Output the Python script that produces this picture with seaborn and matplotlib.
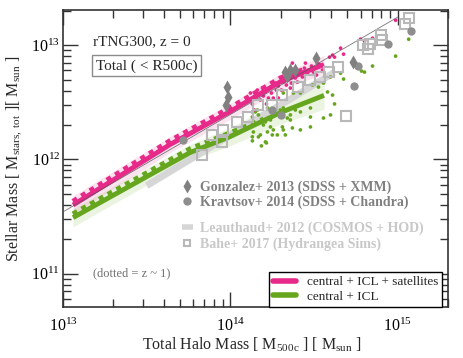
import numpy as np
import matplotlib
matplotlib.use("Agg")
import matplotlib.pyplot as plt
import seaborn as sns
from matplotlib.lines import Line2D
from matplotlib.ticker import LogLocator, NullFormatter

# log10 masses (halo mass M500c, stellar mass)

# median relations (z = 0) and their scatter (dex)
pink_logm = [13.06, 13.64, 14.00, 14.30, 14.56]
pink_logms = [11.60, 12.13, 12.42, 12.68, 12.83]
pink_band = [0.08, 0.07, 0.07, 0.07, 0.08]
green_logm = [13.06, 13.76, 14.00, 14.30, 14.56]
green_logms = [11.49, 12.06, 12.20, 12.41, 12.56]
green_band = [0.08, 0.07, 0.08, 0.10, 0.12]

# z ~ 1 medians (dotted)
pink_z1_logm = [13.06, 13.64, 14.00, 14.30, 14.45]
pink_z1_logms = [11.63, 12.16, 12.45, 12.71, 12.79]
green_z1_logm = [13.06, 13.76, 14.00, 14.20]
green_z1_logms = [11.52, 12.09, 12.23, 12.35]

# thin reference fit and Leauthaud+ 2012 relation
fit_logm = [13.0, 15.0]
fit_logms = [11.54, 13.245]
leau_logm = [13.50, 14.62]
leau_logms = [11.77, 12.76]

# individual haloes: central + ICL + satellites
pink_pts_logm = [14.102, 14.120, 14.132, 14.150, 14.162, 14.168, 14.180, 14.192, 14.198, 14.210,
                 14.222, 14.228, 14.240, 14.246, 14.257, 14.269, 14.275, 14.287, 14.299, 14.305,
                 14.317, 14.323, 14.335, 14.347, 14.359, 14.365, 14.377, 14.389, 14.401, 14.407,
                 14.419, 14.431, 14.443, 14.449, 14.461, 14.473, 14.485, 14.497, 14.509, 14.515,
                 14.527, 14.539, 14.551, 14.593, 14.611, 14.623, 14.659, 14.677, 14.778, 14.802,
                 14.850, 14.988, 14.144, 14.216, 14.060, 14.287, 14.359, 14.371]
pink_pts_logms = [12.520, 12.581, 12.485, 12.546, 12.607, 12.563, 12.520, 12.624, 12.555, 12.590,
                  12.607, 12.537, 12.633, 12.581, 12.537, 12.668, 12.607, 12.642, 12.677, 12.607,
                  12.677, 12.712, 12.651, 12.694, 12.738, 12.668, 12.764, 12.712, 12.677, 12.747,
                  12.773, 12.721, 12.799, 12.843, 12.755, 12.782, 12.817, 12.764, 12.799, 12.738,
                  12.834, 12.825, 12.782, 12.895, 12.913, 12.895, 12.974, 12.921, 13.052, 13.035,
                  13.061, 13.218, 12.432, 12.485, 12.476, 12.537, 12.624, 12.843]

# individual haloes: central + ICL
green_pts_logm = [14.132, 14.132, 14.162, 14.222, 14.168, 14.192, 14.210, 14.269, 14.240, 14.198,
                  14.257, 14.222, 14.180, 14.138, 14.132, 14.210, 14.168, 14.311, 14.281, 14.299,
                  14.317, 14.599, 14.557, 14.581, 14.611, 14.527, 14.491, 14.419, 14.377, 14.437,
                  14.389, 14.419, 14.479, 14.341, 14.359, 14.557, 14.599, 14.479, 14.419, 14.371,
                  14.317, 15.066, 14.988, 14.850, 14.784, 14.802, 14.677, 14.659, 14.623, 14.479,
                  14.329, 14.251, 14.216, 14.186, 14.132, 14.240, 14.150, 14.359, 14.317]
green_pts_logms = [12.415, 12.371, 12.432, 12.450, 12.389, 12.328, 12.328, 12.389, 12.284, 12.301,
                   12.258, 12.240, 12.214, 12.240, 12.197, 12.153, 12.197, 12.284, 12.214, 12.432,
                   12.450, 12.721, 12.668, 12.590, 12.563, 12.633, 12.651, 12.581, 12.581, 12.493,
                   12.432, 12.415, 12.450, 12.362, 12.345, 12.362, 12.389, 12.284, 12.258, 12.275,
                   12.258, 13.052, 12.904, 12.817, 12.773, 12.764, 12.703, 12.755, 12.485, 12.371,
                   12.214, 12.214, 12.144, 12.118, 12.162, 12.345, 12.415, 12.389, 12.581]

# observations / other sims
gonz_logm = [13.982, 13.988, 13.976, 14.329, 14.359, 14.389, 14.515, 14.731, 14.341]
gonz_logms = [12.633, 12.546, 12.476, 12.764, 12.782, 12.782, 12.886, 12.852, 12.729]
krav_logm = [13.719, 15.078, 14.940, 14.766, 14.737, 14.251, 14.305]
krav_logms = [12.170, 13.122, 13.009, 12.817, 12.642, 12.432, 12.389]
bahe_logm = [15.066, 15.042, 14.898, 14.904, 14.796, 14.832, 14.820, 14.641, 14.587, 14.539,
             14.479, 14.407, 14.311, 14.689, 14.251, 14.168, 14.108, 14.042, 13.958, 13.892,
             13.952, 13.832]
bahe_logms = [13.236, 13.183, 13.087, 13.044, 13.000, 13.009, 12.965, 12.808, 12.764, 12.721,
              12.694, 12.633, 12.563, 12.380, 12.476, 12.476, 12.371, 12.328, 12.258, 12.214,
              12.153, 12.039]

PINK = "#e7298a"
GREEN = "#66a61e"

sns.set_style("ticks")
plt.rcParams["font.family"] = ["Liberation Serif", "DejaVu Serif"]
plt.rcParams["mathtext.fontset"] = "custom"
plt.rcParams["mathtext.rm"] = "Liberation Serif"
plt.rcParams["mathtext.it"] = "Liberation Serif:italic"
plt.rcParams["mathtext.bf"] = "Liberation Serif:bold"

fig = plt.figure(figsize=(4.63, 3.58), dpi=100)
ax = fig.add_axes([0.136, 0.1425, 0.8316, 0.8295])


def p10(a):
    return 10 ** np.asarray(a, dtype=float)


# bands
ax.fill_between(p10(pink_logm), p10(np.array(pink_logms) - pink_band),
                p10(np.array(pink_logms) + pink_band), color=PINK, alpha=0.13, lw=0)
ax.fill_between(p10(green_logm), p10(np.array(green_logms) - green_band),
                p10(np.array(green_logms) + green_band), color=GREEN, alpha=0.13, lw=0)

# Leauthaud relation
ax.plot(p10(leau_logm), p10(leau_logms), color="#d6d6d6", lw=5, solid_capstyle="butt", zorder=2)

# simulated haloes
sns.scatterplot(x=p10(green_pts_logm), y=p10(green_pts_logms), color=GREEN, s=7,
                edgecolor="none", ax=ax, legend=False, zorder=3)
sns.scatterplot(x=p10(pink_pts_logm), y=p10(pink_pts_logms), color=PINK, s=7,
                edgecolor="none", ax=ax, legend=False, zorder=3)

# medians
ax.plot(p10(pink_logm), p10(pink_logms), color=PINK, lw=3.5, solid_capstyle="butt", zorder=4)
ax.plot(p10(green_logm), p10(green_logms), color=GREEN, lw=3.5, solid_capstyle="butt", zorder=4)
ax.plot(p10(pink_z1_logm), p10(pink_z1_logms), color=PINK, lw=4, ls=(0, (0.9, 0.9)), zorder=4)
ax.plot(p10(green_z1_logm), p10(green_z1_logms), color=GREEN, lw=4, ls=(0, (0.9, 0.9)), zorder=4)

# thin fit line
ax.plot(p10(fit_logm), p10(fit_logms), color="#555555", lw=0.6, alpha=0.8, zorder=5)

# observations
ax.plot(p10(bahe_logm), p10(bahe_logms), ls="none", marker="s", ms=6.5, mfc="none",
        mec="#b8b8b8", mew=1.5, zorder=5)
ax.plot(p10(krav_logm), p10(krav_logms), ls="none", marker="o", ms=6, mfc="#8e8e8e",
        mec="none", zorder=5)
ax.plot(p10(gonz_logm), p10(gonz_logms), ls="none", marker="d", ms=7, mfc="#808080",
        mec="none", zorder=5)

ax.set_xscale("log")
ax.set_yscale("log")
ax.set_xlim(1e13, 2e15)
ax.set_ylim(5.1e10, 2.03e13)

for axis in (ax.xaxis, ax.yaxis):
    axis.set_major_locator(LogLocator(base=10, numticks=10))
    axis.set_minor_locator(LogLocator(base=10, subs=np.arange(2, 10), numticks=10))
    axis.set_minor_formatter(NullFormatter())
ax.tick_params(which="both", direction="in", top=True, right=True, colors="#333333",
               labelcolor="black", labelsize=11.5)
ax.tick_params(which="major", length=11, width=1.0)
ax.tick_params(which="minor", length=6, width=1.0)
ax.tick_params(axis="y", pad=2)
ax.tick_params(axis="x", pad=8)
for s in ax.spines.values():
    s.set_color("#333333")
    s.set_linewidth(1.2)

ax.set_xlabel(r"Total Halo Mass [ M$_{\rm 500c}$ ] [ M$_{\rm sun}$ ]", fontsize=11.5)
ax.set_ylabel(r"Stellar Mass [ M$_{\rm stars,\ tot}$ ][ M$_{\rm sun}$ ]", fontsize=11.5)
ax.xaxis.set_label_coords(0.49, -0.095)
ax.yaxis.set_label_coords(-0.102, 0.5)

# texts
ax.text(0.078, 0.892, "rTNG300, z = 0", transform=ax.transAxes, fontsize=11, va="center")
ax.text(0.085, 0.812, "Total ( < R500c)", transform=ax.transAxes, fontsize=11, va="center",
        bbox=dict(boxstyle="square,pad=0.25", fc="white", ec="#8a8a8a", lw=1))
ax.text(0.078, 0.114, "(dotted = z ~ 1)", transform=ax.transAxes, fontsize=9, va="center",
        color="#707070")

# observation legends
obs1 = [Line2D([], [], ls="none", marker="d", ms=7, mfc="#808080", mec="none"),
        Line2D([], [], ls="none", marker="o", ms=6, mfc="#8e8e8e", mec="none")]
leg1 = ax.legend(obs1, ["Gonzalez+ 2013 (SDSS + XMM)", "Kravtsov+ 2014 (SDSS + Chandra)"],
                 loc="upper left", bbox_to_anchor=(0.29, 0.45), frameon=False,
                 handlelength=0.8, handletextpad=0.5, borderpad=0, labelspacing=0.15,
                 prop=dict(size=10, weight="bold"), labelcolor="#808080")
ax.add_artist(leg1)
obs2 = [Line2D([], [], color="#d6d6d6", lw=4, solid_capstyle="butt"),
        Line2D([], [], ls="none", marker="s", ms=5, mfc="none", mec="#b8b8b8", mew=1.5)]
leg2 = ax.legend(obs2, ["Leauthaud+ 2012 (COSMOS + HOD)", "Bahe+ 2017 (Hydrangea Sims)"],
                 loc="upper left", bbox_to_anchor=(0.29, 0.31), frameon=False,
                 handlelength=0.8, handletextpad=0.5, borderpad=0, labelspacing=0.15,
                 prop=dict(size=10, weight="bold"), labelcolor="#c8c8c8")
ax.add_artist(leg2)

# main legend
handles = [Line2D([], [], color=PINK, lw=4), Line2D([], [], color=GREEN, lw=4)]
leg = ax.legend(handles, ["central + ICL + satellites", "central + ICL"], loc="lower right",
                bbox_to_anchor=(0.985, 0.0), borderaxespad=0, fancybox=False,
                edgecolor="black", framealpha=1, fontsize=9.5, handlelength=1.8,
                labelspacing=0.2, borderpad=0.3)
leg.get_frame().set_linewidth(1.0)

fig.savefig("out.png", dpi=100)
